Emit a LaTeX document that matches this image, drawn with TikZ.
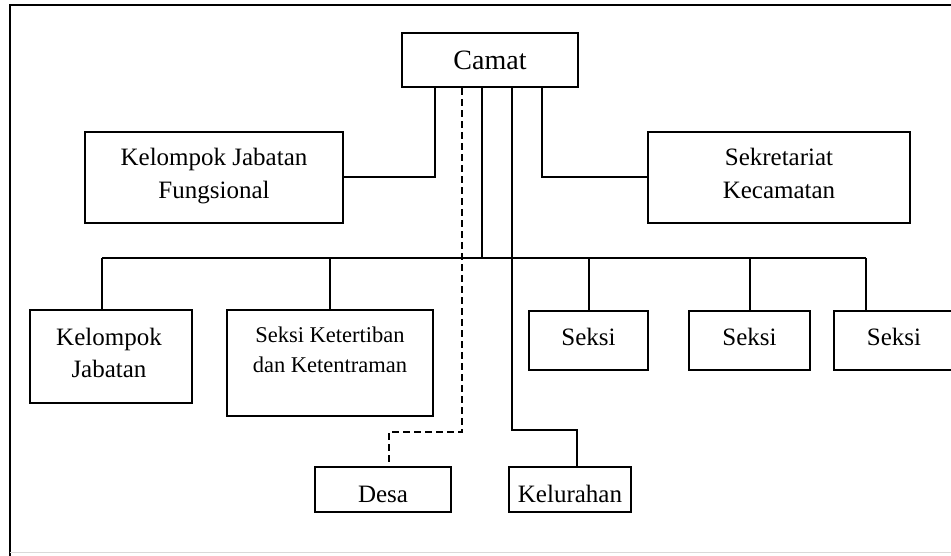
\documentclass[tikz,border=0pt]{standalone}
\usepackage{fontspec}
\setmainfont{Liberation Serif}
\begin{document}
\begin{tikzpicture}[x=1pt,y=-1pt,
  box/.style={draw, line width=2.2pt, inner sep=0pt, rectangle},
  conn/.style={line width=2pt},
  dconn/.style={line width=2.2pt, dash pattern=on 7pt off 4pt},
  txt/.style={font=\fontsize{25}{33}\selectfont, align=center, inner sep=0pt},
  stxt/.style={font=\fontsize{22.5}{30}\selectfont, align=center, inner sep=0pt}]
\clip (0,0) rectangle (951,556);
\useasboundingbox (0,0) rectangle (951,556);
% outer frame (cropped)
\draw[line width=2pt] (10,560) -- (10,5) -- (960,5);
\draw[gray!30, line width=1pt] (10,552) -- (960,552);

% boxes
\node[box, minimum width=176pt, minimum height=54pt] (camat) at (490,60) {};
\node[box, minimum width=258pt, minimum height=91pt] (kjf) at (214,177.5) {};
\node[box, minimum width=262pt, minimum height=91pt] (sek) at (779,177.5) {};
\node[box, minimum width=162pt, minimum height=93pt] (kj) at (111,356.5) {};
\node[box, minimum width=206pt, minimum height=106pt] (skt) at (330,363) {};
\node[box, minimum width=119pt, minimum height=59pt] (s1) at (588.5,340.5) {};
\node[box, minimum width=121pt, minimum height=59pt] (s2) at (749.5,340.5) {};
\node[box, minimum width=120pt, minimum height=59pt] (s3) at (894,340.5) {};
\node[box, minimum width=136pt, minimum height=45pt] (desa) at (383,489.5) {};
\node[box, minimum width=122pt, minimum height=45pt] (kel) at (570,489.5) {};

% texts
\node[txt, font=\fontsize{28}{34}\selectfont, anchor=base] (tcamat) at (490,70) {Camat};
\node[txt] (tkjf) at (214,176.5) {Kelompok Jabatan\\Fungsional};
\node[txt] (tsek) at (779,173.5) {Sekretariat\\Kecamatan};
\node[txt, font=\fontsize{25}{32}\selectfont] (tkj) at (109,352.5) {Kelompok\\Jabatan};
\node[stxt] (tskt) at (330,350) {Seksi Ketertiban\\dan Ketentraman};
\node[txt, anchor=base] (ts1) at (588.5,345) {Seksi};
\node[txt, anchor=base] (ts2) at (749.5,345) {Seksi};
\node[txt, anchor=base] (ts3) at (894,345) {Seksi};
\node[txt, anchor=base] (tdesa) at (383,502) {Desa};
\node[txt, anchor=base] (tkel) at (570,502) {Kelurahan};

% connector points
\coordinate (c1) at ([xshift=-55pt]camat.south);
\coordinate (c2) at ([xshift=-28pt]camat.south);
\coordinate (c3) at ([xshift=-8pt]camat.south);
\coordinate (c4) at ([xshift=22pt]camat.south);
\coordinate (c5) at ([xshift=52pt]camat.south);
\coordinate (busL) at (102,258);
\coordinate (busR) at (866,258);
\coordinate (kb) at (577,430);
\coordinate (db) at (389,432);

% connectors
\draw[conn] (c1) |- (kjf.east);
\draw[conn] (c5) |- (sek.west);
\draw[conn] (c3) -- (c3 |- busL);
\draw[conn] (busL) -- (busR);
\draw[conn] (busL) -- (busL |- kj.north);
\draw[conn] (skt.north |- busL) -- (skt.north);
\draw[conn] (s1.north |- busL) -- (s1.north);
\draw[conn] (s2.north |- busL) -- (s2.north);
\draw[conn] (busR) -- (busR |- s3.north);
\draw[conn] (c4) |- (kb) -- (kb |- kel.north);
\draw[dconn] (c2) |- (db) -- (db |- desa.north);
\end{tikzpicture}
\end{document}
